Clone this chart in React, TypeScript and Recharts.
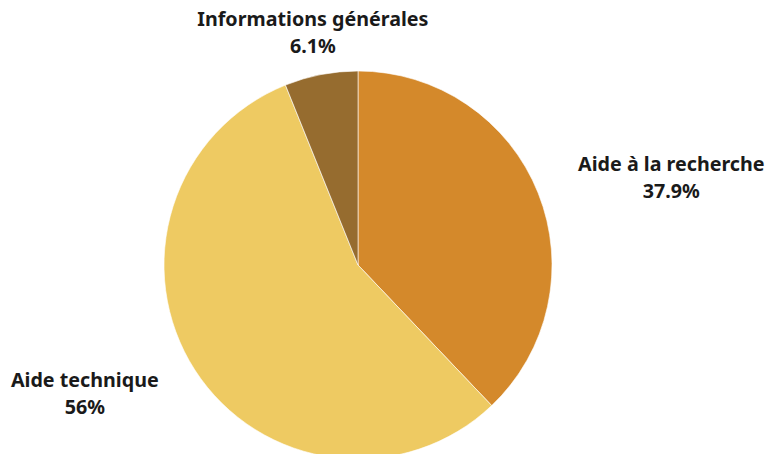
import { PieChart, Pie, Cell } from 'recharts';

const categories = ['Aide à la recherche', 'Aide technique', 'Informations générales'];
const shares = [37.9, 56, 6.1];
const colors = ['#D4892B', '#EECA62', '#966C2F'];

const data = categories.map((name, i) => ({ name, value: shares[i] }));

const RADIAN = Math.PI / 180;
const FONT_SIZE = 19.7;
const FONT = `700 ${FONT_SIZE}px 'Noto Sans'`;

let ctx: CanvasRenderingContext2D | null = null;
const textWidth = (s: string) => {
  if (!ctx) ctx = document.createElement('canvas').getContext('2d');
  if (!ctx) return s.length * 10;
  ctx.font = FONT;
  return ctx.measureText(s).width;
};

const renderLabel = (props: any) => {
  const { cx, cy, midAngle, outerRadius, name, value } = props;
  const r = outerRadius + 43;
  const cos = Math.cos(-midAngle * RADIAN);
  const sin = Math.sin(-midAngle * RADIAN);
  const ax = cx + r * cos;
  const y = cy + r * sin;
  const pct = `${value}%`;
  const w = Math.max(textWidth(name), textWidth(pct));
  const x = Math.abs(cos) < 0.3 ? ax : cos > 0 ? ax + w / 2 : ax - w / 2;
  return (
    <text
      x={x}
      y={y}
      textAnchor="middle"
      fill="#1a1a1a"
      fontFamily="'Noto Sans', sans-serif"
      fontWeight={700}
      fontSize={FONT_SIZE}
    >
      <tspan x={x} y={y - 13.5} dominantBaseline="central">
        {name}
      </tspan>
      <tspan x={x} y={y + 13.5} dominantBaseline="central">
        {pct}
      </tspan>
    </text>
  );
};

export default function App() {
  return (
    <div style={{ position: 'absolute', top: 0, left: 0, width: 784, height: 454, background: '#fff' }}>
      <PieChart width={784} height={454} margin={{ top: 0, right: 0, bottom: 0, left: 0 }}>
        <Pie
          data={data}
          dataKey="value"
          nameKey="name"
          cx={358}
          cy={265}
          outerRadius={194}
          startAngle={90}
          endAngle={-270}
          stroke="#ffffff"
          strokeWidth={0.6}
          label={renderLabel}
          labelLine={false}
          isAnimationActive={false}
        >
          {data.map((d, i) => (
            <Cell key={d.name} fill={colors[i]} />
          ))}
        </Pie>
      </PieChart>
    </div>
  );
}
